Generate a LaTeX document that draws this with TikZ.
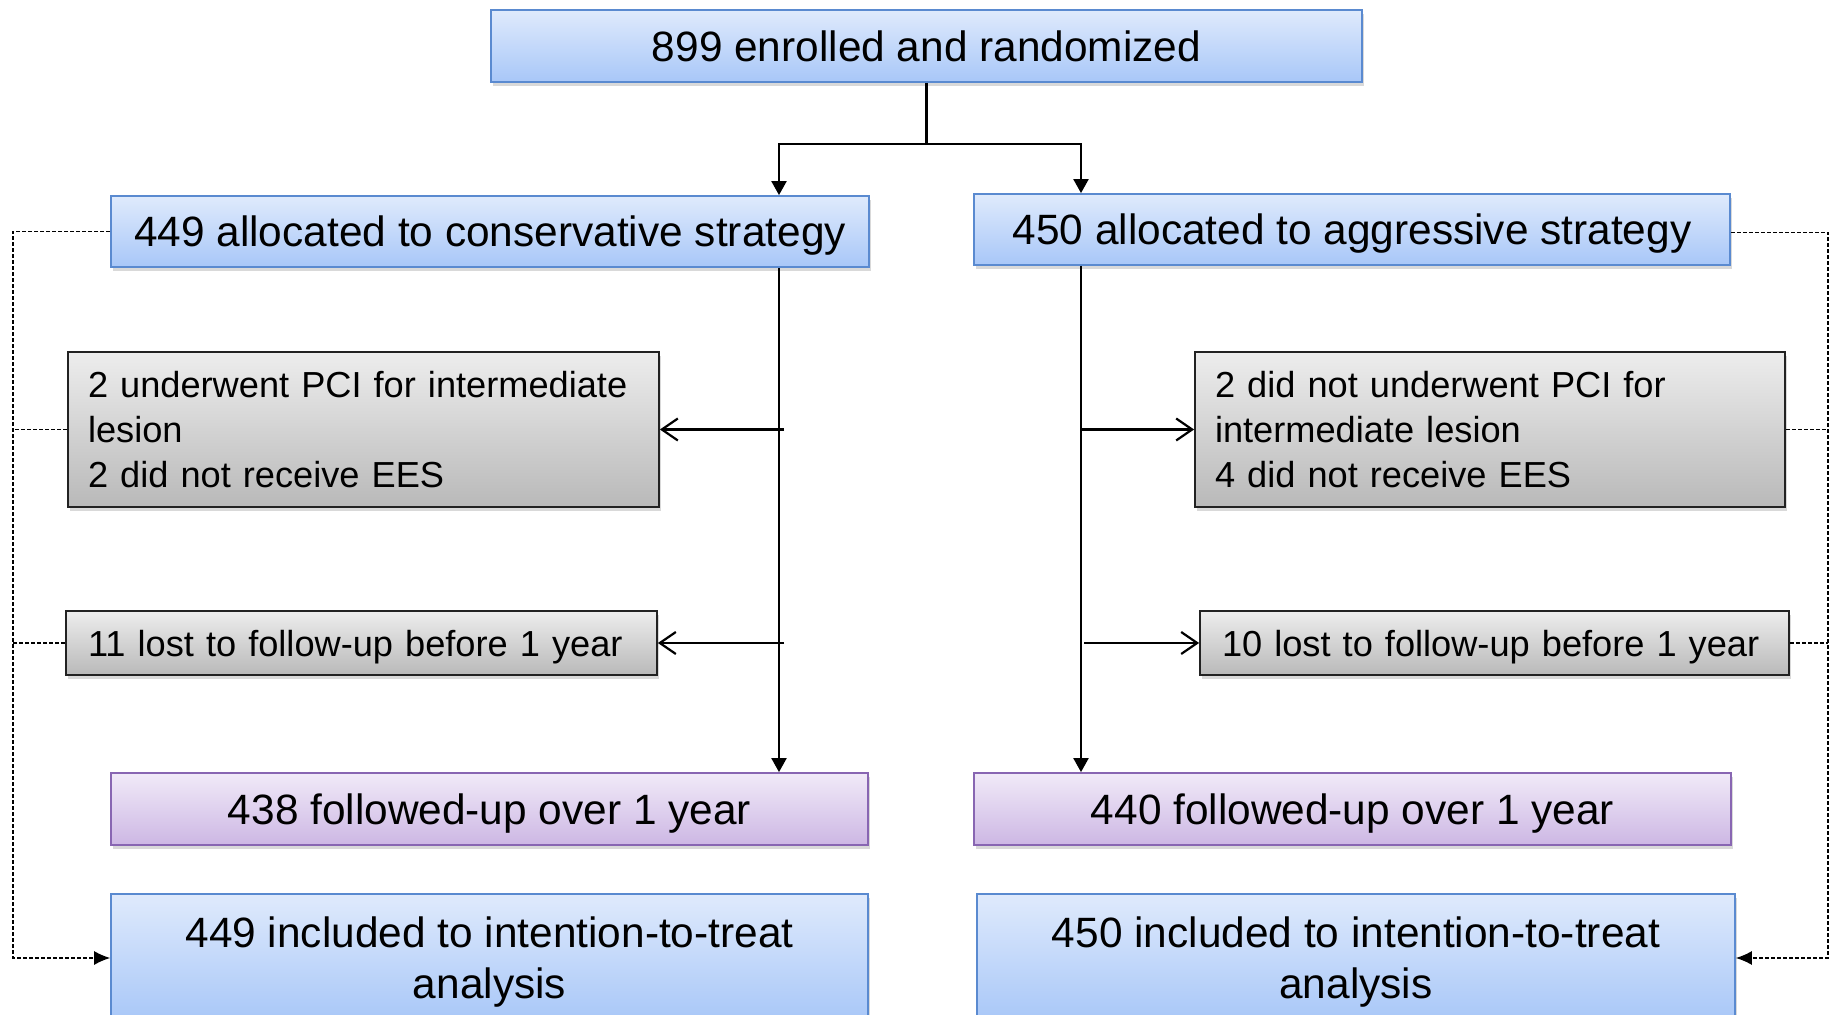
\documentclass[tikz,border=0pt]{standalone}
\usepackage{fontspec}
\setmainfont{Liberation Sans}
\usetikzlibrary{arrows.meta,shadows}
\definecolor{bluetop}{HTML}{DFEAFC}
\definecolor{bluebot}{HTML}{A8C7F8}
\definecolor{blueline}{HTML}{5A8AD0}
\definecolor{purptop}{HTML}{F1EAF8}
\definecolor{purpbot}{HTML}{CDB7E4}
\definecolor{purpline}{HTML}{8866B2}
\definecolor{graytop}{HTML}{EDEDED}
\definecolor{graybot}{HTML}{B9B9B9}
\definecolor{grayline}{HTML}{222222}
\begin{document}
\begin{tikzpicture}[x=0.5pt,y=-0.5pt,
  box/.style={draw, line width=0.9pt, inner sep=0pt,
    drop shadow={opacity=0.3, shadow xshift=1.2pt, shadow yshift=-1.8pt}},
  bigfont/.style={font=\fontsize{21.2pt}{25.5pt}\selectfont},
  smallfont/.style={font=\fontsize{18.1pt}{22.3pt}\selectfont},
  bluebox/.style={box, bigfont, draw=blueline, top color=bluetop, bottom color=bluebot, align=center, text depth=0pt},
  purpbox/.style={box, bigfont, draw=purpline, top color=purptop, bottom color=purpbot, align=center, text depth=0pt},
  graybox/.style={box, smallfont, draw=grayline, top color=graytop, bottom color=graybot, align=left},
  conn/.style={line width=1.1pt, black},
  tri/.style={conn, -{Triangle[length=7pt,width=7.5pt]}},
  barb/.style={conn, -{Straight Barb[length=8pt,width=11pt,line width=1.1pt]}},
  dsh/.style={line width=0.6pt, dash pattern=on 2pt off 1pt, black},
  dsharr/.style={dsh, -{Latex[length=8pt,width=7pt]}}
]
\useasboundingbox (0,0) rectangle (1837,1015);
\clip (0,0) rectangle (1837,1015);

\node[bluebox, minimum width=435.5pt, minimum height=36pt] (top) at (926.5,46) {899 enrolled and randomized};

\node[bluebox, minimum width=379pt, minimum height=35.5pt] (lalloc) at (490,231.5) {449 allocated to conservative strategy};
\node[bluebox, minimum width=378pt, minimum height=35.5pt] (ralloc) at (1352,229.5) {450 allocated to aggressive strategy};

\node[graybox, minimum height=77.5pt, text width=275.5pt, inner xsep=10pt] (lpci) at (363.5,429.5)
  {\mbox{2 underwent PCI for intermediate}\\\mbox{lesion}\\\mbox{2 did not receive EES}};
\node[graybox, minimum height=77.5pt, text width=275pt, inner xsep=10pt] (rpci) at (1490,429.5)
  {\mbox{2 did not underwent PCI for}\\\mbox{intermediate lesion}\\\mbox{4 did not receive EES}};

\node[graybox, text depth=0pt, minimum height=32pt, text width=273.5pt, inner xsep=11pt] (llost) at (361.5,643) {\mbox{11 lost to follow-up before 1 year}};
\node[graybox, text depth=0pt, minimum height=32pt, text width=272.5pt, inner xsep=11pt] (rlost) at (1494.5,643) {\mbox{10 lost to follow-up before 1 year}};

\node[purpbox, minimum width=378.5pt, minimum height=36pt] (lfu) at (489.5,809) {438 followed-up over 1 year};
\node[purpbox, minimum width=378.5pt, minimum height=36pt] (rfu) at (1352.5,809) {440 followed-up over 1 year};

\node[bluebox, minimum width=378.5pt, minimum height=64pt] (litt) at (489.5,958) {449 included to intention-to-treat\\analysis};
\node[bluebox, minimum width=379pt, minimum height=64pt] (ritt) at (1356,958) {450 included to intention-to-treat\\analysis};

\coordinate (split) at (926.5,144);
\coordinate (L) at (779,0);
\coordinate (R) at (1081,0);
\coordinate (DL) at (13,0);
\coordinate (DR) at (1828,0);

\draw[conn] (top.south) -- (split);
\draw[tri] (split) -| (lalloc.north -| L);
\draw[tri] (split) -| (ralloc.north -| R);

\draw[tri] (lalloc.south -| L) -- (lfu.north -| L);
\draw[tri] (ralloc.south -| R) -- (rfu.north -| R);

\draw[barb] ([xshift=2.5pt]lpci.east -| L) -- (lpci.east);
\draw[barb] ([xshift=2.5pt]llost.east -| L) -- (llost.east);
\draw[barb] (rpci.west -| R) -- (rpci.west);
\draw[barb] ([xshift=1.5pt]rlost.west -| R) -- (rlost.west);

\draw[dsharr] (lalloc.west) -- (lalloc.west -| DL) -- (litt.west -| DL) -- (litt.west);
\draw[dsh] (lpci.west) -- (lpci.west -| DL);
\draw[dsh] (llost.west) -- (llost.west -| DL);

\draw[dsharr] ([yshift=-1.5pt]ralloc.east) -- ([yshift=-1.5pt]ralloc.east -| DR) -- (ritt.east -| DR) -- (ritt.east);
\draw[dsh] (rpci.east) -- (rpci.east -| DR);
\draw[dsh] (rlost.east) -- (rlost.east -| DR);
\end{tikzpicture}
\end{document}
